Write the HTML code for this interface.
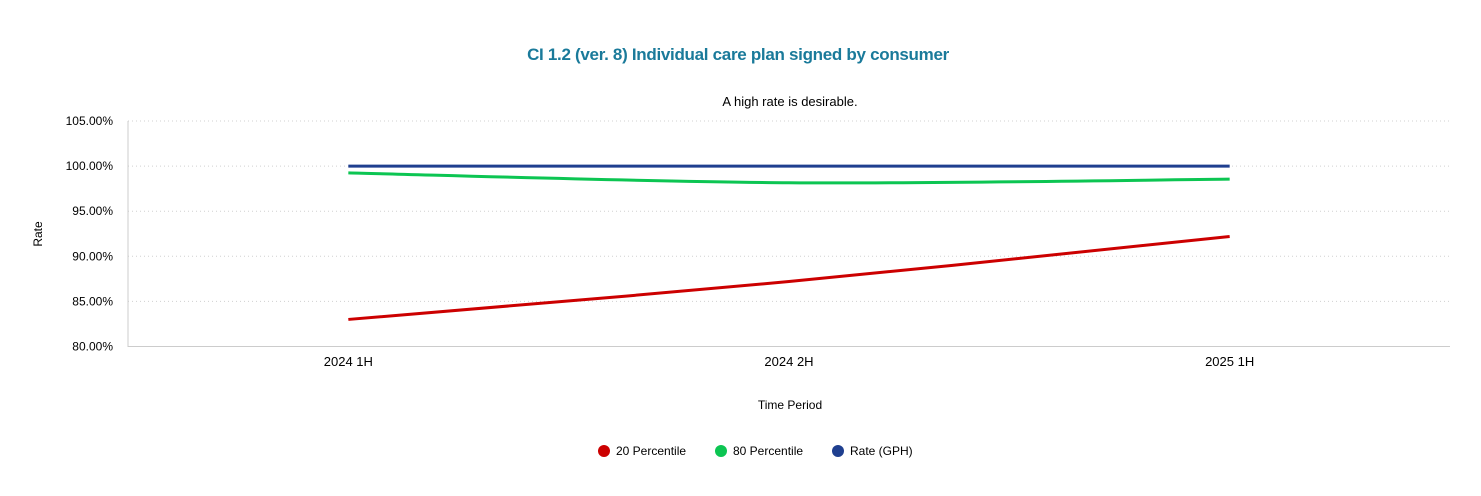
<!DOCTYPE html>
<html><head><meta charset="utf-8"><style>
body{margin:0;background:#fff;font-family:"Liberation Sans",sans-serif;}
svg text{font-family:"Liberation Sans",sans-serif;}
</style></head><body>
<svg id="chart" width="1481" height="491">
<text x="738" y="60" text-anchor="middle" font-size="17" font-weight="bold" fill="#1a7a9a" letter-spacing="-0.3">CI 1.2 (ver. 8) Individual care plan signed by consumer</text>
<text x="790" y="106" text-anchor="middle" font-size="13" fill="#000">A high rate is desirable.</text>
<text transform="translate(42,234) rotate(-90)" text-anchor="middle" font-size="12" fill="#000">Rate</text>
<text x="790" y="409" text-anchor="middle" font-size="12" fill="#000">Time Period</text>
<g id="grid"></g><g id="ylabels"></g><g id="xlabels"></g><g id="series"></g>
<g id="legend"></g>
</svg>
<script>
const categories=["2024 1H","2024 2H","2025 1H"];
const p20=[83.0,87.2,92.2];
const p80=[99.25,98.15,98.55];
const rate=[100,100,100];
const yTicks=[80,85,90,95,100,105];
const seriesNames=["20 Percentile","80 Percentile","Rate (GPH)"];
const colors=["#cc0000","#0cc552","#1f3f8f"];
const NS="http://www.w3.org/2000/svg";
const L=128,R=1450,T=121,B=346.5;
const yMin=80,yMax=105;
function ys(v){return B-(v-yMin)/(yMax-yMin)*(B-T);}
function xs(i){const w=(R-L)/categories.length;return L+w*(i+0.5);}
function mk(tag,attrs,parent){const e=document.createElementNS(NS,tag);for(const k in attrs)e.setAttribute(k,attrs[k]);parent.appendChild(e);return e;}
const grid=document.getElementById('grid'),yl=document.getElementById('ylabels'),xl=document.getElementById('xlabels'),sg=document.getElementById('series'),lg=document.getElementById('legend');
yTicks.forEach(t=>{
  const y=ys(t);
  if(t!==yMin){const g=mk('line',{x1:L,x2:R,y1:y,y2:y,stroke:'#d0d0d0','stroke-dasharray':'1,3'},grid);
  
  }
  const tx=mk('text',{x:113,y:y+4,'text-anchor':'end','font-size':'12',fill:'#000'},yl);
  tx.textContent=t.toFixed(2)+'%';
  
  
});
const ax=mk('path',{d:`M${L},${T} V${B} H${R}`,fill:'none',stroke:'#ccc'},grid);


categories.forEach((c,i)=>{
  const tx=mk('text',{x:xs(i),y:366,'text-anchor':'middle','font-size':'13',fill:'#000'},xl);
  tx.textContent=c;
  
  
});
function pathFor(vals){
  const p=vals.map((v,i)=>[xs(i),ys(v)]);
  let d=`M${p[0][0]},${p[0][1]}`;
  for(let i=0;i<p.length-1;i++){
    const p0=p[i-1]||p[i],p1=p[i],p2=p[i+1],p3=p[i+2]||p2;
    const c1=[p1[0]+(p2[0]-p0[0])/6,p1[1]+(p2[1]-p0[1])/6];
    const c2=[p2[0]-(p3[0]-p1[0])/6,p2[1]-(p3[1]-p1[1])/6];
    d+=` C${c1[0]},${c1[1]} ${c2[0]},${c2[1]} ${p2[0]},${p2[1]}`;
  }
  return d;
}
[p20,p80,rate].forEach((vals,k)=>{
  const pe=mk('path',{d:pathFor(vals),fill:'none',stroke:colors[k],'stroke-width':'3'},sg);
  
  
});
const lx=[604,721,838];
seriesNames.forEach((n,k)=>{
  const g=mk('g',{},lg);
  
  
  mk('circle',{cx:lx[k],cy:451,r:6,fill:colors[k]},g);
  const t=mk('text',{x:lx[k]+12,y:455,'font-size':'12',fill:'#000'},g);
  t.textContent=n;
});
</script>
</body></html>
